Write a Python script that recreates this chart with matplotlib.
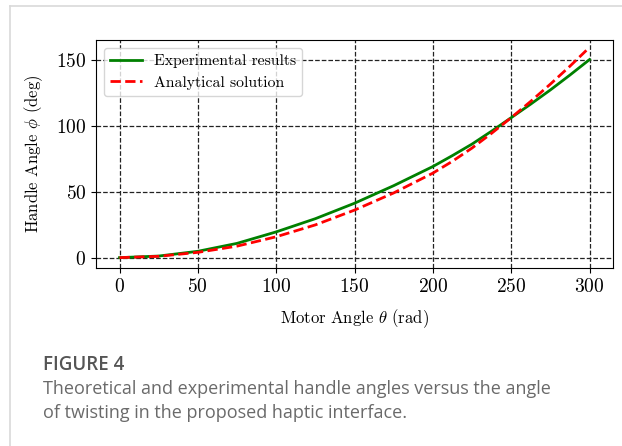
import matplotlib
matplotlib.use('Agg')
import matplotlib.pyplot as plt
from matplotlib.lines import Line2D

# data
motor_exp = [0, 25, 50, 75, 100, 125, 150, 175, 200, 212.5, 225, 237.5, 250, 262.5, 275, 287.5, 300]
handle_exp = [0, 1.2, 4.8, 10.8, 19.5, 29.5, 41.2, 54.5, 69.0, 77.3, 86.0, 95.8, 106.0, 116.3, 127.0, 138.3, 150.0]

motor_ana = [0, 25, 50, 75, 100, 125, 150, 175, 200, 212.5, 225, 237.5, 250, 262.5, 275, 287.5, 298]
handle_ana = [0, 1.0, 4.0, 8.7, 15.8, 24.8, 36.0, 49.0, 64.0, 73.0, 83.0, 94.2, 106.0, 118.4, 131.4, 145.0, 157.0]

x_ticks = [0, 50, 100, 150, 200, 250, 300]
y_ticks = [0, 50, 100, 150]

plt.rcParams['font.family'] = 'serif'
plt.rcParams['font.serif'] = ['cmr10']
plt.rcParams['mathtext.fontset'] = 'cm'
plt.rcParams['axes.formatter.use_mathtext'] = True

fig = plt.figure(figsize=(6.22, 4.46), dpi=100)

# card border (top and left)
fig.add_artist(Line2D([10 / 622, 1], [1 - 6 / 446, 1 - 6 / 446], color='#d9d9d9', lw=1.2))
fig.add_artist(Line2D([10 / 622, 10 / 622], [0, 1 - 6 / 446], color='#d9d9d9', lw=1.2))

ax = fig.add_axes([96 / 622, 1 - 268 / 446, (613 - 96) / 622, (268 - 40) / 446])
ax.plot(motor_exp, handle_exp, color='green', lw=2, label='Experimental results')
ax.plot(motor_ana, handle_ana, color='red', lw=2, ls='--', label='Analytical solution')

ax.set_xticks(x_ticks)
ax.set_yticks(y_ticks)
ax.tick_params(labelsize=14)
ax.grid(True, color='#222222', ls='--', lw=0.9)
ax.set_xlabel(r'Motor Angle $\theta$ (rad)', fontsize=12, labelpad=8)
ax.set_ylabel(r'Handle Angle $\phi$ (deg)', fontsize=12, labelpad=8)
ax.legend(loc='upper left', fontsize=11.3)

fig.text(43 / 622, 1 - 365 / 446, 'FIGURE 4', family='Open Sans', fontsize=13.5,
         color='#555555', weight='semibold', va='center')
fig.text(43 / 622, 1 - 389 / 446,
         'Theoretical and experimental handle angles versus the angle',
         family='Open Sans', fontsize=13, color='#6a6a6a', va='center')
fig.text(43 / 622, 1 - 413 / 446,
         'of twisting in the proposed haptic interface.',
         family='Open Sans', fontsize=13, color='#6a6a6a', va='center')

fig.savefig('out.png', dpi=100)
